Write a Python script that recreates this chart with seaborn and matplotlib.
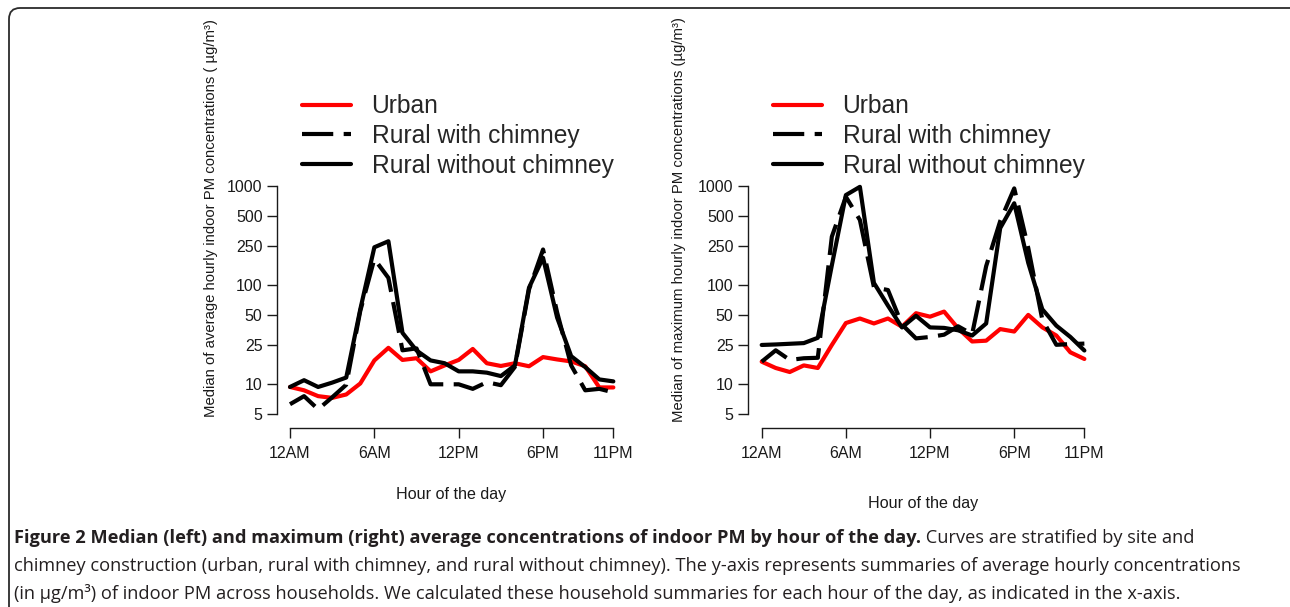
import matplotlib
matplotlib.use("Agg")
import matplotlib.pyplot as plt
import numpy as np
import pandas as pd
import seaborn as sns
from matplotlib.patches import FancyBboxPatch
from matplotlib.transforms import IdentityTransform
from matplotlib.ticker import FixedLocator, NullLocator, FixedFormatter

# ---------------- data ----------------
hours = list(range(24))
hour_ticks = [0, 6, 12, 18, 23]
hour_labels = ["12AM", "6AM", "12PM", "6PM", "11PM"]
y_ticks = [5, 10, 25, 50, 100, 250, 500, 1000]
y_tick_labels = ["5", "10", "25", "50", "100", "250", "500", "1000"]
series_names = ["Urban", "Rural with chimney", "Rural without chimney"]

# left panel: median of average hourly indoor PM
median_urban = [9.4, 8.7, 7.6, 7.3, 7.9, 10.2, 17.4, 23.3, 17.6, 18.3, 13.5, 15.5,
                17.6, 22.7, 16.3, 15.3, 16.3, 15.2, 18.8, 17.8, 17.0, 15.2, 9.3, 9.3]
median_chimney = [6.3, 7.6, 5.6, 7.4, 9.9, 55, 183, 118, 22, 23, 10, 10,
                  10, 9.0, 10.5, 9.8, 15, 90, 228, 53, 15.5, 8.7, 9.0, 8.3]
median_nochimney = [9.4, 11.0, 9.4, 10.4, 11.7, 57, 240, 276, 33, 21.9, 17.4, 16.3,
                    13.5, 13.5, 13.1, 12.1, 15.5, 94, 188, 47, 19.2, 14.9, 11.2, 10.7]

# right panel: median of maximum hourly indoor PM
max_urban = [16.9, 14.6, 13.3, 15.5, 14.6, 24.9, 41.4, 46, 41, 46, 38, 52,
             48, 54, 36.6, 27, 27.5, 36, 34, 50, 37.5, 31, 21, 18]
max_chimney = [16.9, 22, 17.6, 18.3, 18.5, 307, 774, 452, 95, 89, 40, 29,
               30, 31.6, 38.4, 32, 155, 440, 940, 236, 45, 25, 25.4, 25.7]
max_nochimney = [24.9, 25.2, 25.6, 26, 29.4, 158, 805, 975, 105, 62, 37.4, 49,
                 37.4, 37, 35, 31, 41, 374, 666, 167, 57, 39, 30, 21.9]

left_ylabel = "Median of average hourly indoor PM concentrations ( µg/m³)"
right_ylabel = "Median of maximum hourly indoor PM concentrations (µg/m³)"
xlabel = "Hour of the day"

caption_bold = ("Figure 2 Median (left) and maximum (right) average concentrations "
                "of indoor PM by hour of the day.")
caption_rest1 = " Curves are stratified by site and"
caption_line2 = ("chimney construction (urban, rural with chimney, and rural without chimney). "
                 "The y-axis represents summaries of average hourly concentrations")
caption_line3 = ("(in µg/m³) of indoor PM across households. We calculated these household "
                 "summaries for each hour of the day, as indicated in the x-axis.")

# ---------------- style ----------------
sns.set_style("ticks")
plt.rcParams["font.family"] = ["Liberation Sans", "DejaVu Sans"]
plt.rcParams["axes.edgecolor"] = "#1a1a1a"
plt.rcParams["xtick.color"] = "#1a1a1a"
plt.rcParams["ytick.color"] = "#1a1a1a"

palette = {"Urban": "#ff0000", "Rural with chimney": "#000000",
           "Rural without chimney": "#000000"}
dash_map = {"Urban": "", "Rural with chimney": (7.5, 2.5),
            "Rural without chimney": ""}

W, H = 1290, 607
fig = plt.figure(figsize=(W / 100, H / 100), dpi=100)
fig.patch.set_facecolor("white")

# rounded frame (only top & left edges visible)
frame = FancyBboxPatch((9, -30), 1320, H - 8 + 30,
                       boxstyle="round,pad=0,rounding_size=11",
                       transform=IdentityTransform(), fill=False,
                       edgecolor="#2b2b2b", linewidth=1.3)
fig.add_artist(frame)


def make_df(u, c, n):
    rows = []
    for name, vals in zip(series_names, [u, c, n]):
        for h, v in zip(hours, vals):
            rows.append({"hour": h, "value": v, "site": name})
    return pd.DataFrame(rows)


def draw_panel(ax, df, ylabel, x_left_pad, ylab_pos, xlab_pos):
    sns.lineplot(data=df, x="hour", y="value", hue="site", style="site",
                 hue_order=series_names, style_order=series_names,
                 palette=palette, dashes=dash_map, linewidth=3,
                 errorbar=None, legend=False, ax=ax)
    ax.set_yscale("log")
    ax.set_xlim(-x_left_pad, 23.9)
    ax.set_ylim(3.63, 46700)
    ax.yaxis.set_major_locator(FixedLocator(y_ticks))
    ax.yaxis.set_major_formatter(FixedFormatter(y_tick_labels))
    ax.yaxis.set_minor_locator(NullLocator())
    ax.xaxis.set_major_locator(FixedLocator(hour_ticks))
    ax.xaxis.set_major_formatter(FixedFormatter(hour_labels))
    ax.xaxis.set_minor_locator(NullLocator())
    for s in ["top", "right"]:
        ax.spines[s].set_visible(False)
    ax.spines["left"].set_bounds(5, 1000)
    ax.spines["bottom"].set_bounds(0, 23)
    ax.spines["left"].set_linewidth(1.0)
    ax.spines["bottom"].set_linewidth(1.0)
    ax.tick_params(axis="both", direction="out", length=7.2, width=1.0,
                   labelsize=11.5, colors="#1a1a1a")
    ax.tick_params(axis="x", pad=5.5)
    ax.tick_params(axis="y", pad=3.2)
    ax.set_facecolor("white")
    ax.grid(False)

    ax.set_ylabel(ylabel, fontsize=10.7, color="#1a1a1a")
    ax.yaxis.label.set_va("center")
    ax.yaxis.set_label_coords(*ylab_pos)
    ax.set_xlabel(xlabel, fontsize=11.6, color="#1a1a1a")
    ax.xaxis.label.set_va("center")
    ax.xaxis.set_label_coords(*xlab_pos)

    handles = ax.get_lines()[:3]
    ax.legend(handles, series_names, loc="upper left",
              bbox_to_anchor=(0.0716, 0.818), frameon=False, fontsize=17.7,
              handlelength=1.98, handletextpad=0.85, labelspacing=0.23,
              borderpad=0, borderaxespad=0)


ax1 = fig.add_axes([277 / W, (H - 428) / H, 349 / W, 408 / H])
ax2 = fig.add_axes([748 / W, (H - 428) / H, 349 / W, 408 / H])

draw_panel(ax1, make_df(median_urban, median_chimney, median_nochimney),
           left_ylabel, 0.925, (-0.19, 0.515), (0.4986, -0.164))
draw_panel(ax2, make_df(max_urban, max_chimney, max_nochimney),
           right_ylabel, 0.976, (-0.198, 0.51), (0.5006, -0.184))

# ---------------- caption ----------------
cap_family = ["Open Sans", "DejaVu Sans"]
cap_color = "#231f20"
renderer = fig.canvas.get_renderer()

probe = fig.text(0, 0, caption_line2, fontsize=12, family=cap_family)
w2 = probe.get_window_extent(renderer).width
probe.remove()
size = 12 * (1236 - 14) / w2

x0 = 14 / W
tb = fig.text(x0, 1 - 543 / H, caption_bold, fontsize=size, family=cap_family,
              weight="bold", color=cap_color, va="baseline")
bb = tb.get_window_extent(renderer)
fig.text(bb.x1 / W, 1 - 543 / H, caption_rest1, fontsize=size, family=cap_family,
         color=cap_color, va="baseline")
fig.text(x0, 1 - 571 / H, caption_line2, fontsize=size, family=cap_family,
         color=cap_color, va="baseline")
fig.text(x0, 1 - 599 / H, caption_line3, fontsize=size, family=cap_family,
         color=cap_color, va="baseline")

fig.savefig("out.png", dpi=100, facecolor="white")
